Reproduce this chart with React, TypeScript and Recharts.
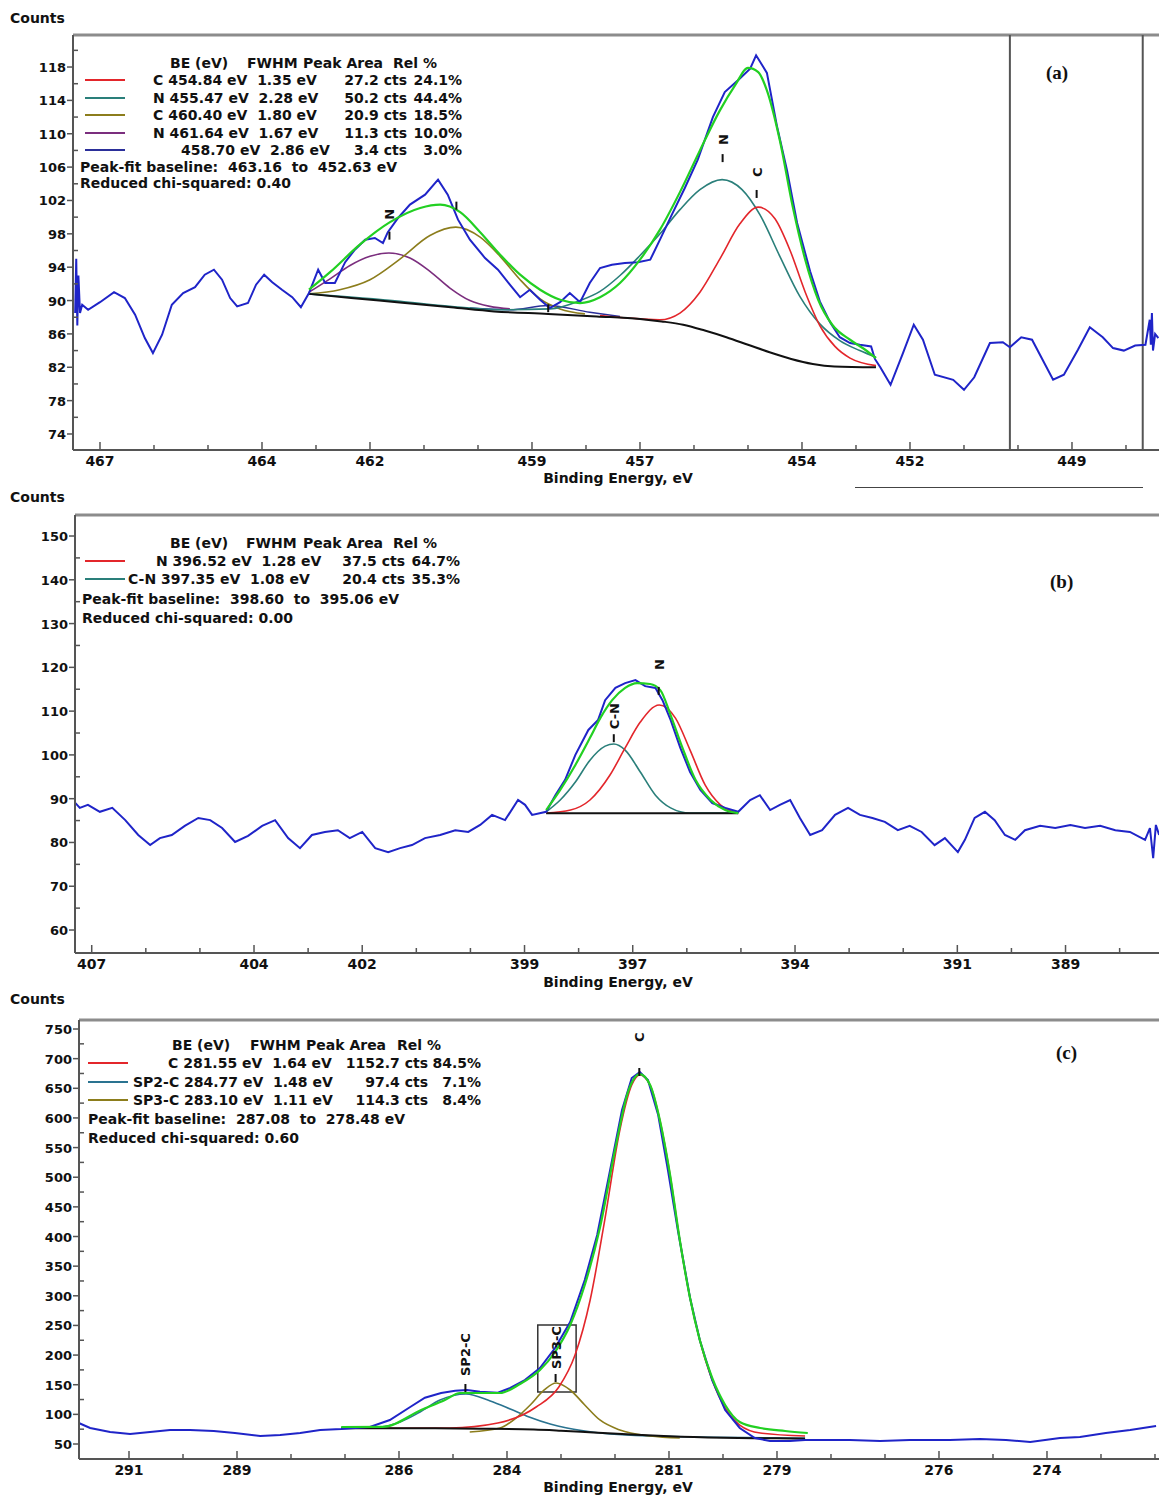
import React from "react";
import {
  LineChart, Line, XAxis, YAxis, ReferenceLine, ReferenceDot, ReferenceArea,
} from "recharts";

type Pt = [number, number]; // [binding energy eV, counts]

const FONT = "'DejaVu Sans', sans-serif";
const SERIF = "'Liberation Serif', 'DejaVu Serif', serif";
const AXIS = "#555";
const BLUE = "#1f24c8";
const GREEN = "#22d022";
const RED = "#e3262b";
const TEAL = "#2a7f7a";
const TEAL_C = "#2a7390";
const OLIVE = "#8c7d1c";
const PURPLE = "#7b2e7e";
const NAVY = "#2b2f9a";
const BLACK = "#111";

// ---------- (a) ----------
const A_RAW: Pt[] = [
  [467.46, 88.5], [467.44, 95.0], [467.42, 87.0], [467.40, 93.0], [467.37, 88.5], [467.33, 89.5],
  [467.22, 88.9], [467.0, 89.8], [466.74, 91.0], [466.54, 90.3], [466.35, 88.3], [466.17, 85.5],
  [466.02, 83.7], [465.85, 85.9], [465.67, 89.5], [465.46, 90.9], [465.24, 91.6], [465.06, 93.1],
  [464.89, 93.7], [464.74, 92.5], [464.59, 90.3], [464.46, 89.3], [464.26, 89.7], [464.11, 91.9],
  [463.96, 93.1], [463.81, 92.2], [463.63, 91.3], [463.44, 90.4], [463.28, 89.2], [463.13, 90.9],
  [462.96, 93.7], [462.83, 92.1], [462.65, 92.1], [462.46, 94.6], [462.28, 96.1], [462.09, 97.3],
  [461.91, 97.5], [461.76, 96.9], [461.67, 98.2], [461.48, 99.9], [461.26, 101.5], [460.98, 102.7],
  [460.74, 104.5], [460.56, 102.7], [460.37, 99.7], [460.15, 97.3], [459.87, 95.1], [459.63, 93.7],
  [459.41, 91.9], [459.22, 90.4], [459.04, 91.3], [458.85, 90.1], [458.67, 89.1], [458.48, 89.8],
  [458.30, 90.9], [458.11, 89.8], [457.93, 92.1], [457.74, 93.9], [457.52, 94.3], [457.28, 94.5],
  [457.04, 94.6], [456.81, 94.9], [456.63, 97.3], [456.41, 100.3], [456.17, 103.5], [455.93, 106.9],
  [455.65, 112.0], [455.43, 115.0], [455.17, 116.5], [454.96, 117.8], [454.85, 119.4], [454.65, 117.3],
  [454.46, 110.8], [454.28, 105.7], [454.09, 99.3], [453.85, 93.5], [453.67, 89.9], [453.48, 87.4],
  [453.30, 85.6], [453.11, 84.9], [452.93, 84.7], [452.72, 84.5], [452.65, 83.0], [452.55, 82.0],
  [452.36, 79.9], [452.13, 83.7], [451.93, 87.1], [451.76, 85.3], [451.54, 81.1], [451.20, 80.5],
  [451.00, 79.3], [450.81, 80.8], [450.52, 84.9], [450.28, 85.0], [450.15, 84.4], [449.94, 85.6],
  [449.74, 85.3], [449.35, 80.5], [449.15, 81.1], [448.89, 84.1], [448.67, 86.8], [448.43, 85.6],
  [448.24, 84.3], [448.04, 84.0], [447.83, 84.6], [447.64, 84.7], [447.56, 87.7], [447.54, 84.7],
  [447.52, 88.5], [447.50, 84.0], [447.46, 86.0], [447.40, 85.5],
];
const A_ENVELOPE: Pt[] = [
  [463.13, 91.3], [462.74, 93.4], [462.19, 96.7], [461.63, 99.4], [461.07, 101.1], [460.70, 101.5],
  [460.33, 100.6], [459.96, 98.2], [459.59, 95.5], [459.22, 93.1], [458.85, 91.3], [458.48, 90.1],
  [458.11, 89.7], [457.74, 90.4], [457.37, 92.1], [457.0, 94.9], [456.63, 98.5], [456.26, 103.0],
  [455.89, 108.0], [455.52, 112.8], [455.24, 115.8], [455.0, 117.9], [454.81, 117.4], [454.65, 115.2],
  [454.41, 109.2], [454.17, 101.2], [453.94, 94.9], [453.70, 90.1], [453.44, 87.1], [453.11, 85.3],
  [452.83, 84.1], [452.63, 83.1],
];
const A_BASELINE: Pt[] = [
  [463.13, 90.8], [462.35, 90.3], [461.5, 89.8], [460.5, 89.2], [459.7, 88.7], [458.7, 88.4],
  [457.8, 88.1], [457.0, 87.8], [456.6, 87.5], [456.2, 87.1], [455.8, 86.4], [455.4, 85.6],
  [455.0, 84.7], [454.6, 83.8], [454.2, 83.0], [453.8, 82.4], [453.4, 82.1], [452.63, 82.0],
];
const A_C1: Pt[] = [
  [457.74, 88.2], [457.0, 87.8], [456.63, 87.7], [456.26, 88.5], [455.89, 91.0], [455.52, 95.0],
  [455.15, 99.2], [454.81, 101.2], [454.5, 99.8], [454.22, 96.0], [453.94, 91.0], [453.67, 87.0],
  [453.39, 84.5], [453.11, 83.1], [452.63, 82.2],
];
const A_N1: Pt[] = [
  [463.13, 90.8], [461.44, 89.9], [460.52, 89.3], [459.59, 88.9], [458.67, 89.0], [458.11, 90.0],
  [457.74, 91.1], [457.37, 93.0], [457.0, 95.4], [456.63, 98.0], [456.26, 100.9], [455.89, 103.3],
  [455.48, 104.5], [455.11, 103.3], [454.78, 100.3], [454.41, 95.3], [454.04, 90.5], [453.67, 87.2],
  [453.30, 85.2], [452.93, 84.0], [452.63, 83.2],
];
const A_C2: Pt[] = [
  [463.13, 90.8], [462.56, 91.3], [462.0, 92.5], [461.44, 95.0], [460.89, 97.8], [460.41, 98.8],
  [459.96, 97.6], [459.59, 95.3], [459.22, 92.5], [458.85, 90.2], [458.48, 89.0], [458.02, 88.4],
];
const A_N2: Pt[] = [
  [463.13, 91.0], [462.74, 92.6], [462.37, 94.2], [462.0, 95.3], [461.65, 95.7], [461.26, 95.1],
  [460.89, 93.5], [460.52, 91.5], [460.15, 90.0], [459.78, 89.3], [459.41, 89.0],
];
const A_X: Pt[] = [[460.15, 89.1], [459.41, 88.9], [458.70, 89.4], [457.93, 88.6], [457.37, 88.1]];

const A_X_TICKS = [448, 449, 450, 451, 452, 453, 454, 455, 456, 457, 458, 459, 460, 461, 462, 463, 464, 465, 466, 467];
const A_X_LABELS = [467, 464, 462, 459, 457, 454, 452, 449];
const A_Y_TICKS = [74, 76, 78, 80, 82, 84, 86, 88, 90, 92, 94, 96, 98, 100, 102, 104, 106, 108, 110, 112, 114, 116, 118, 120];
const A_Y_LABELS = [74, 78, 82, 86, 90, 94, 98, 102, 106, 110, 114, 118];

// ---------- (b) ----------
const B_RAW: Pt[] = [
  [407.30, 89.0], [407.22, 87.9], [407.07, 88.6], [406.85, 87.0], [406.62, 87.9], [406.38, 85.1],
  [406.14, 81.7], [405.92, 79.4], [405.74, 81.0], [405.52, 81.7], [405.28, 83.8], [405.03, 85.6],
  [404.81, 85.1], [404.59, 83.3], [404.35, 80.1], [404.11, 81.5], [403.85, 83.8], [403.61, 85.1],
  [403.37, 81.0], [403.15, 78.7], [402.93, 81.7], [402.69, 82.4], [402.45, 82.8], [402.23, 81.0],
  [402.0, 82.4], [401.76, 78.7], [401.52, 77.8], [401.30, 78.7], [401.08, 79.4], [400.84, 81.0],
  [400.56, 81.7], [400.28, 82.8], [400.04, 82.4], [399.82, 84.0], [399.60, 86.3], [399.36, 85.1],
  [399.12, 89.7], [398.99, 88.6], [398.86, 86.3], [398.60, 87.0], [398.43, 90.8], [398.25, 94.3],
  [398.06, 100.0], [397.82, 105.7], [397.64, 108.0], [397.51, 112.5], [397.32, 115.3], [397.14, 116.4],
  [396.95, 117.1], [396.77, 115.7], [396.58, 115.3], [396.45, 112.5], [396.30, 108.0], [396.12, 101.6],
  [395.94, 96.1], [395.75, 92.0], [395.53, 89.0], [395.29, 87.9], [395.05, 87.0], [394.83, 89.7],
  [394.65, 90.8], [394.46, 87.4], [394.28, 88.6], [394.09, 89.7], [393.91, 85.6], [393.72, 81.7],
  [393.50, 82.8], [393.26, 86.3], [393.02, 87.9], [392.80, 86.3], [392.57, 85.6], [392.34, 84.7],
  [392.10, 82.8], [391.88, 83.8], [391.66, 82.4], [391.42, 79.4], [391.23, 81.0], [390.99, 77.8],
  [390.86, 80.6], [390.68, 85.6], [390.49, 87.0], [390.31, 85.1], [390.12, 81.7], [389.93, 80.6],
  [389.75, 82.8], [389.47, 83.8], [389.19, 83.3], [388.91, 84.0], [388.64, 83.3], [388.36, 83.8],
  [388.08, 82.8], [387.81, 82.4], [387.53, 80.6], [387.44, 83.3], [387.38, 76.4], [387.33, 84.0],
  [387.27, 81.7],
];
const B_ENVELOPE: Pt[] = [
  [398.60, 87.4], [398.34, 92.0], [398.06, 97.7], [397.79, 103.9], [397.60, 108.4], [397.38, 112.5],
  [397.14, 115.3], [396.92, 116.4], [396.68, 116.2], [396.49, 114.8], [396.30, 109.1], [396.08, 101.6],
  [395.84, 94.3], [395.56, 89.7], [395.29, 87.4], [395.05, 86.7],
];
const B_N: Pt[] = [
  [398.60, 86.7], [398.15, 87.4], [397.79, 89.7], [397.42, 95.4], [397.14, 101.6], [396.86, 107.5],
  [396.51, 111.4], [396.21, 108.4], [395.94, 101.1], [395.66, 93.1], [395.38, 88.6], [395.05, 86.7],
];
const B_CN: Pt[] = [
  [398.60, 87.0], [398.34, 89.7], [398.06, 93.8], [397.79, 98.8], [397.51, 102.0], [397.35, 102.5],
  [397.14, 101.1], [396.86, 96.1], [396.58, 90.8], [396.30, 87.9], [395.94, 86.7], [395.05, 86.7],
];
const B_BASELINE: Pt[] = [[398.60, 86.7], [395.05, 86.7]];

const B_X_TICKS = [388, 389, 390, 391, 392, 393, 394, 395, 396, 397, 398, 399, 400, 401, 402, 403, 404, 405, 406, 407];
const B_X_LABELS = [407, 404, 402, 399, 397, 394, 391, 389];
const B_Y_TICKS = [60, 65, 70, 75, 80, 85, 90, 95, 100, 105, 110, 115, 120, 125, 130, 135, 140, 145, 150];
const B_Y_LABELS = [60, 70, 80, 90, 100, 110, 120, 130, 140, 150];

// ---------- (c) ----------
const C_RAW: Pt[] = [
  [291.93, 85.4], [291.72, 77.0], [291.35, 70.2], [290.98, 66.9], [290.61, 70.2], [290.24, 73.6],
  [289.87, 73.6], [289.43, 71.9], [289.04, 68.6], [288.57, 63.5], [288.20, 65.2], [287.83, 68.6],
  [287.46, 73.6], [287.07, 75.3], [286.54, 78.7], [286.17, 90.5], [285.80, 112.0], [285.52, 128.0],
  [285.22, 136.0], [284.96, 140.0], [284.74, 141.1], [284.50, 138.0], [284.17, 136.5], [283.94, 144.5],
  [283.67, 157.9], [283.39, 178.2], [283.11, 211.9], [282.83, 255.8], [282.56, 326.6], [282.33, 402.5],
  [282.09, 512.1], [281.87, 613.3], [281.69, 667.3], [281.54, 677.4], [281.39, 663.9], [281.20, 604.9],
  [281.02, 512.1], [280.83, 407.6], [280.61, 296.2], [280.43, 225.4], [280.20, 157.9], [279.96, 107.3],
  [279.69, 77.0], [279.41, 60.1], [279.13, 55.1], [278.76, 55.1], [278.48, 56.7], [278.20, 56.7],
  [277.65, 56.7], [277.09, 55.1], [276.54, 56.7], [275.80, 56.7], [275.24, 58.4], [274.76, 56.7],
  [274.31, 53.4], [273.76, 60.1], [273.39, 61.8], [272.91, 68.6], [272.46, 73.6], [271.98, 80.4],
];
const C_ENVELOPE: Pt[] = [
  [287.07, 78.7], [286.30, 79.0], [285.59, 107.3], [285.15, 124.2], [284.87, 136.0], [284.52, 136.0],
  [284.13, 136.0], [283.76, 151.2], [283.39, 174.8], [283.11, 205.2], [282.83, 250.7], [282.56, 318.2],
  [282.28, 414.3], [282.0, 545.9], [281.76, 643.7], [281.54, 674.0], [281.35, 655.5], [281.17, 596.5],
  [280.98, 503.7], [280.80, 394.1], [280.61, 296.2], [280.43, 225.4], [280.20, 161.3], [279.96, 115.8],
  [279.69, 87.1], [279.31, 77.0], [278.85, 71.9], [278.43, 68.6],
];
const C_C: Pt[] = [
  [286.30, 76.5], [285.06, 77.0], [284.17, 85.4], [283.46, 112.4], [283.04, 146.1], [282.74, 200.1],
  [282.46, 292.9], [282.19, 427.8], [281.91, 579.6], [281.69, 655.5], [281.54, 672.4], [281.35, 655.5],
  [281.17, 596.5], [280.98, 503.7], [280.80, 394.1], [280.61, 296.2], [280.43, 225.4], [280.20, 157.9],
  [279.96, 110.7], [279.69, 82.0], [279.31, 68.6], [278.48, 63.5],
];
const C_SP2: Pt[] = [
  [287.07, 76.5], [286.35, 78.7], [285.98, 87.1], [285.61, 104.0], [285.24, 124.2], [284.76, 134.3],
  [284.31, 122.5], [283.94, 109.0], [283.59, 95.5], [283.20, 83.7], [282.89, 77.0], [282.28, 68.6],
  [281.35, 63.5], [278.48, 60.1],
];
const C_SP3: Pt[] = [
  [284.69, 70.2], [284.13, 77.0], [283.81, 95.5], [283.57, 115.8], [283.31, 141.1], [283.09, 152.9],
  [282.83, 141.1], [282.56, 115.8], [282.28, 90.5], [281.91, 73.6], [281.35, 63.5], [280.80, 60.1],
];
const C_BASELINE: Pt[] = [
  [287.07, 76.5], [285.5, 76.5], [284.5, 75.8], [283.5, 74.5], [283.0, 72.5], [282.4, 69.5],
  [281.6, 65.5], [281.0, 63.0], [280.0, 60.5], [279.0, 59.5], [278.48, 59.0],
];

const C_X_TICKS = [272, 273, 274, 275, 276, 277, 278, 279, 280, 281, 282, 283, 284, 285, 286, 287, 288, 289, 290, 291];
const C_X_LABELS = [291, 289, 286, 284, 281, 279, 276, 274];
const C_Y_TICKS = [50, 75, 100, 125, 150, 175, 200, 225, 250, 275, 300, 325, 350, 375, 400, 425, 450, 475, 500, 525, 550, 575, 600, 625, 650, 675, 700, 725, 750];
const C_Y_LABELS = [50, 100, 150, 200, 250, 300, 350, 400, 450, 500, 550, 600, 650, 700, 750];

// legend tables
const A_ROWS = [
  { name: "C", be: "454.84 eV", fwhm: "1.35 eV", area: "27.2 cts", rel: "24.1%", color: RED },
  { name: "N", be: "455.47 eV", fwhm: "2.28 eV", area: "50.2 cts", rel: "44.4%", color: TEAL },
  { name: "C", be: "460.40 eV", fwhm: "1.80 eV", area: "20.9 cts", rel: "18.5%", color: OLIVE },
  { name: "N", be: "461.64 eV", fwhm: "1.67 eV", area: "11.3 cts", rel: "10.0%", color: PURPLE },
  { name: "", be: "458.70 eV", fwhm: "2.86 eV", area: "3.4 cts", rel: "3.0%", color: NAVY },
];
const B_ROWS = [
  { name: "N", be: "396.52 eV", fwhm: "1.28 eV", area: "37.5 cts", rel: "64.7%", color: RED },
  { name: "C-N", be: "397.35 eV", fwhm: "1.08 eV", area: "20.4 cts", rel: "35.3%", color: TEAL },
];
const C_ROWS = [
  { name: "C", be: "281.55 eV", fwhm: "1.64 eV", area: "1152.7 cts", rel: "84.5%", color: RED },
  { name: "SP2-C", be: "284.77 eV", fwhm: "1.48 eV", area: "97.4 cts", rel: "7.1%", color: TEAL_C },
  { name: "SP3-C", be: "283.10 eV", fwhm: "1.11 eV", area: "114.3 cts", rel: "8.4%", color: OLIVE },
];

const pts = (a: Pt[]) => a.map(([e, c]) => ({ e, c }));

type Series = { data: Pt[]; color: string; width: number; smooth?: boolean };
type Mark = { e: number; c: number; text: string; gap: number };

const XTick = (props: any) => {
  const { x, y, payload, labels } = props;
  const major = labels.includes(payload.value);
  return (
    <g>
      <line x1={x} x2={x} y1={y} y2={y - (major ? 8 : 5)} stroke={AXIS} strokeWidth={1.5} />
      {major && (
        <text x={x} y={y + 16} textAnchor="middle" fontFamily={FONT} fontWeight="bold" fontSize={14} fill="#111">
          {payload.value}
        </text>
      )}
    </g>
  );
};

const YTick = (props: any) => {
  const { x, y, payload, labels } = props;
  const major = labels.includes(payload.value);
  return (
    <g>
      <line x1={major ? x - 6 : x} x2={major ? x : x + 5} y1={y} y2={y} stroke={AXIS} strokeWidth={1.5} />
      {major && (
        <text x={x - 7} y={y + 5} textAnchor="end" fontFamily={FONT} fontWeight="bold" fontSize={13} fill="#111">
          {payload.value}
        </text>
      )}
    </g>
  );
};

const PeakMark = (props: any) => {
  const { cx, cy, text, gap } = props;
  return (
    <g>
      <line x1={cx} x2={cx} y1={cy} y2={cy - 8} stroke="#111" strokeWidth={2} />
      {text && (
        <text transform={`translate(${cx + 5},${cy - 8 - gap}) rotate(-90)`} textAnchor="start"
          fontFamily={FONT} fontWeight="bold" fontSize={13} fill="#111">
          {text}
        </text>
      )}
    </g>
  );
};

function Panel(p: {
  top: number; height: number; xAxisH: number; yAxisW: number;
  xDomain: [number, number]; yDomain: [number, number];
  xTicks: number[]; xLabels: number[]; yTicks: number[]; yLabels: number[];
  series: Series[]; marks: Mark[]; vlines?: number[];
  box?: { x1: number; x2: number; y1: number; y2: number };
}) {
  return (
    <div style={{ position: "absolute", left: 0, top: p.top }}>
      <LineChart width={1170} height={p.height} margin={{ top: 35, right: 0, bottom: 0, left: 0 }}>
        <XAxis type="number" dataKey="e" domain={p.xDomain} reversed allowDataOverflow ticks={p.xTicks}
          interval={0} tick={<XTick labels={p.xLabels} />} tickLine={false} tickSize={0} tickMargin={0}
          height={p.xAxisH} axisLine={{ stroke: AXIS, strokeWidth: 2 }} />
        <YAxis type="number" domain={p.yDomain} allowDataOverflow ticks={p.yTicks} interval={0}
          tick={<YTick labels={p.yLabels} />} tickLine={false} tickSize={0} tickMargin={0}
          width={p.yAxisW} axisLine={{ stroke: AXIS, strokeWidth: 2 }} />
        <ReferenceLine y={p.yDomain[1]} stroke="#8c8c8c" strokeWidth={3} />
        {(p.vlines || []).map((v) => (
          <ReferenceLine key={v} x={v} stroke="#555" strokeWidth={2} />
        ))}
        {p.series.map((s, i) => (
          <Line key={i} data={pts(s.data)} dataKey="c" type={s.smooth ? "monotone" : "linear"}
            stroke={s.color} strokeWidth={s.width} dot={false} activeDot={false} isAnimationActive={false} />
        ))}
        {p.box && (
          <ReferenceArea x1={p.box.x1} x2={p.box.x2} y1={p.box.y1} y2={p.box.y2}
            fill="none" fillOpacity={0} stroke="#333" strokeWidth={1.5} ifOverflow="visible" />
        )}
        {p.marks.map((m, i) => (
          <ReferenceDot key={i} x={m.e} y={m.c} r={0} ifOverflow="visible"
            shape={(sp: any) => <PeakMark cx={sp.cx} cy={sp.cy} text={m.text} gap={m.gap} />} />
        ))}
      </LineChart>
    </div>
  );
}

function T(props: { x: number; y: number; right?: boolean; size?: number; family?: string; children: React.ReactNode }) {
  const { x, y, right, size = 14, family = FONT, children } = props;
  const pos = right ? { left: x - 300, width: 300, textAlign: "right" as const } : { left: x };
  return (
    <div style={{
      position: "absolute", top: y - 9, height: 18, lineHeight: "18px", fontSize: size,
      fontFamily: family, fontWeight: "bold", whiteSpace: "pre", color: "#111", ...pos,
    }}>
      {children}
    </div>
  );
}

function AxisTitle({ y }: { y: number }) {
  return (
    <div style={{
      position: "absolute", left: 0, width: 1236, top: y - 7, height: 14, lineHeight: "14px",
      textAlign: "center", fontFamily: FONT, fontWeight: "bold", fontSize: 14, color: "#111",
    }}>
      Binding Energy, eV
    </div>
  );
}

function Legend(l: {
  header: [string, number][]; headerY: number; rows: typeof A_ROWS; rowY: number[]; startX: number[];
  sampleX: number; areaR: number; relR: number; noteX: number; baseY: number; chiY: number;
  from: string; to: string; chi: string;
}) {
  return (
    <>
      {l.header.map(([txt, x]) => <T key={txt} x={x} y={l.headerY}>{txt}</T>)}
      {l.rows.map((r, i) => (
        <React.Fragment key={i}>
          <div style={{ position: "absolute", left: l.sampleX, top: l.rowY[i] - 1, width: 40, height: 2, background: r.color }} />
          <T x={l.startX[i]} y={l.rowY[i]}>{(r.name ? r.name + " " : "") + r.be + "  " + r.fwhm}</T>
          <T x={l.areaR} y={l.rowY[i]} right>{r.area}</T>
          <T x={l.relR} y={l.rowY[i]} right>{r.rel}</T>
        </React.Fragment>
      ))}
      <T x={l.noteX} y={l.baseY}>{`Peak-fit baseline:  ${l.from}  to  ${l.to} eV`}</T>
      <T x={l.noteX} y={l.chiY}>{`Reduced chi-squared: ${l.chi}`}</T>
    </>
  );
}

const HEAD = (a: number, b: number, c: number, d: number): [string, number][] => [
  ["BE (eV)", a], ["FWHM", b], ["Peak Area", c], ["Rel %", d],
];

export default function App() {
  return (
    <div style={{ position: "absolute", left: 0, top: 0, width: 1159, height: 1495, overflow: "hidden", background: "#fff" }}>
      {/* (a) */}
      <Panel top={0} height={490} xAxisH={40} yAxisW={73}
        xDomain={[447.185, 467.5]} yDomain={[72.08, 121.84]}
        xTicks={A_X_TICKS} xLabels={A_X_LABELS} yTicks={A_Y_TICKS} yLabels={A_Y_LABELS}
        vlines={[450.15, 447.69]}
        series={[
          { data: A_X, color: NAVY, width: 1.5, smooth: true },
          { data: A_N2, color: PURPLE, width: 1.6, smooth: true },
          { data: A_C2, color: OLIVE, width: 1.6, smooth: true },
          { data: A_N1, color: TEAL, width: 1.6, smooth: true },
          { data: A_C1, color: RED, width: 1.6, smooth: true },
          { data: A_BASELINE, color: BLACK, width: 2, smooth: true },
          { data: A_RAW, color: BLUE, width: 2 },
          { data: A_ENVELOPE, color: GREEN, width: 2.2, smooth: true },
        ]}
        marks={[
          { e: 455.47, c: 106.6, text: "N", gap: 9 },
          { e: 454.84, c: 102.3, text: "C", gap: 13 },
          { e: 461.64, c: 97.3, text: "N", gap: 12 },
          { e: 460.40, c: 100.9, text: "", gap: 0 },
          { e: 458.70, c: 88.6, text: "", gap: 0 },
        ]}
      />
      {/* (b) */}
      <Panel top={480} height={520} xAxisH={47} yAxisW={75}
        xDomain={[387.069, 407.309]} yDomain={[54.75, 154.8]}
        xTicks={B_X_TICKS} xLabels={B_X_LABELS} yTicks={B_Y_TICKS} yLabels={B_Y_LABELS}
        series={[
          { data: B_CN, color: TEAL, width: 1.6, smooth: true },
          { data: B_N, color: RED, width: 1.6, smooth: true },
          { data: B_BASELINE, color: BLACK, width: 2 },
          { data: B_RAW, color: BLUE, width: 2 },
          { data: B_ENVELOPE, color: GREEN, width: 2.2, smooth: true },
        ]}
        marks={[
          { e: 397.35, c: 102.9, text: "C-N", gap: 5 },
          { e: 396.52, c: 113.7, text: "N", gap: 17 },
        ]}
      />
      {/* (c) */}
      <Panel top={985} height={510} xAxisH={36} yAxisW={79}
        xDomain={[271.722, 291.926]} yDomain={[24.7, 765.2]}
        xTicks={C_X_TICKS} xLabels={C_X_LABELS} yTicks={C_Y_TICKS} yLabels={C_Y_LABELS}
        series={[
          { data: C_SP2, color: TEAL_C, width: 1.6, smooth: true },
          { data: C_SP3, color: OLIVE, width: 1.6, smooth: true },
          { data: C_C, color: RED, width: 1.6, smooth: true },
          { data: C_BASELINE, color: BLACK, width: 2, smooth: true },
          { data: C_RAW, color: BLUE, width: 2 },
          { data: C_ENVELOPE, color: GREEN, width: 2.2, smooth: true },
        ]}
        marks={[
          { e: 281.55, c: 670.7, text: "C", gap: 26 },
          { e: 284.77, c: 137.7, text: "SP2-C", gap: 8 },
          { e: 283.10, c: 154.6, text: "SP3-C", gap: 5 },
        ]}
        box={{ x1: 283.43, x2: 282.72, y1: 137.7, y2: 250.7 }}
      />

      {/* titles & annotations */}
      <T x={10} y={18}>Counts</T>
      <T x={10} y={497}>Counts</T>
      <T x={10} y={999}>Counts</T>
      <AxisTitle y={478} />
      <AxisTitle y={982} />
      <AxisTitle y={1487} />
      <div style={{ position: "absolute", left: 855, top: 487, width: 288, height: 1, background: "#444" }} />
      <T x={1046} y={73} size={19} family={SERIF}>(a)</T>
      <T x={1050} y={582} size={19} family={SERIF}>(b)</T>
      <T x={1056} y={1053} size={19} family={SERIF}>(c)</T>

      <Legend header={HEAD(170, 247, 303, 393)} headerY={63} rows={A_ROWS}
        rowY={[80, 98, 115, 133, 150]} startX={[153, 153, 153, 153, 181]} sampleX={85}
        areaR={407} relR={462} noteX={80} baseY={167} chiY={183}
        from="463.16" to="452.63" chi="0.40" />
      <Legend header={HEAD(170, 246, 303, 393)} headerY={543} rows={B_ROWS}
        rowY={[561, 579]} startX={[156, 128]} sampleX={85}
        areaR={405} relR={460} noteX={82} baseY={599} chiY={618}
        from="398.60" to="395.06" chi="0.00" />
      <Legend header={HEAD(172, 250, 306, 397)} headerY={1045} rows={C_ROWS}
        rowY={[1063, 1082, 1100]} startX={[168, 133, 133]} sampleX={88}
        areaR={428} relR={481} noteX={88} baseY={1119} chiY={1138}
        from="287.08" to="278.48" chi="0.60" />
    </div>
  );
}
